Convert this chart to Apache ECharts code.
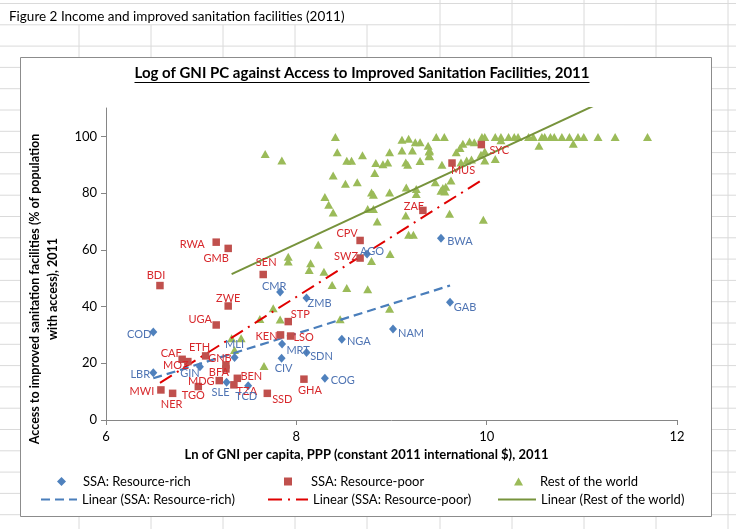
<!DOCTYPE html>
<html><head><meta charset="utf-8">
<script src="https://cdn.jsdelivr.net/npm/echarts@6/dist/echarts.min.js"></script>
<style>html,body{margin:0;padding:0;background:#fff}#c{width:736px;height:529px}</style>
</head><body><div id="c"></div>
<script>
// ---------- DATA ----------
const richNames = ['CMR','COD','LBR','GIN','MLI','SLE','TCD','MRT','CIV','ZMB','NGA','SDN','COG','AGO','NAM','GAB','BWA'];
const richX = [7.83,6.497,6.497,6.987,7.351,7.267,7.494,7.85,7.845,8.107,8.478,8.107,8.30,8.743,9.016,9.615,9.52];
const richY = [45.1,31.0,16.7,18.8,22.0,13.3,12.1,26.8,21.8,43.0,28.5,23.8,14.7,58.5,32.1,41.5,64.1];

const poorNames = ['RWA','GMB','BDI','SEN','ZWE','UGA','CAF','MOZ','ETH','GNB','BFA','MDG','BEN','TZA','TGO','MWI','NER','SSD','KEN','LSO','STP','GHA','CPV','SWZ','ZAF','MUS','SYC'];
const poorX = [7.158,7.284,6.567,7.652,7.284,7.158,6.80,6.86,7.047,7.26,7.26,7.19,7.38,7.344,6.97,6.577,6.70,7.695,7.834,7.94,7.915,8.08,8.67,8.67,9.33,9.636,9.944];
const poorY = [62.7,60.5,47.4,51.3,40.2,33.5,21.4,20.6,22.6,19.4,18.0,13.9,14.7,12.4,11.8,10.6,9.4,9.4,30.0,29.6,34.7,14.4,63.3,57.1,73.9,90.6,97.1];

const restPoints = [
 [7.32,28.8],[7.42,28.8],[7.35,24.7],[7.66,19.0],[7.617,35.6],[7.757,39.4],[7.83,35.4],[7.915,57.6],[7.915,55.9],[8.15,55.3],
 [8.135,52.9],[8.29,52.3],[8.23,61.8],[8.376,47.6],[8.53,46.5],[8.75,46.1],[8.98,39.2],[8.46,35.5],[8.85,70.0],[9.18,65.3],
 [9.23,65.3],[8.79,56.1],[8.985,58.5],[9.15,72.1],[9.61,72.7],[9.965,70.6],
 [7.673,93.8],[7.848,91.5],[8.41,99.8],[8.43,94.4],[8.695,93.3],[8.53,91.4],[8.58,91.4],[8.387,86.2],[8.516,83.3],[8.64,83.8],
 [8.30,78.6],[8.34,75.9],[8.387,73.2],[8.79,80.2],[8.81,79.4],[8.835,90.6],[8.824,87.1],[8.91,90.2],[8.96,90.8],[8.98,94.4],
 [8.98,80.2],[8.75,74.4],[8.81,74.4],[9.15,90.8],[9.17,90.0],[9.11,95.0],[9.22,95.0],[9.11,98.8],[9.18,99.2],[9.25,97.9],
 [9.30,97.9],[9.30,91.3],[9.385,96.7],[9.395,94.7],[9.395,93.2],[9.47,99.8],[9.555,99.8],[9.53,90.0],[9.46,83.8],[9.26,81.4],
 [9.26,79.7],[9.155,82.0],[9.625,84.4],[9.54,81.8],[9.56,80.6],[9.52,80.8],[9.57,82.2],[9.68,94.4],[9.72,95.9],[9.75,97.4],
 [9.82,98.2],[9.87,97.9],[9.73,90.8],[9.79,91.5],[9.84,91.8],[9.94,93.5],[9.98,94.7],[9.98,91.5],[10.09,92.0],[9.95,99.8],
 [9.98,99.8],[10.09,99.8],[10.15,99.8],[10.23,99.8],[10.29,99.8],[10.33,99.8],[10.44,99.8],[10.49,99.8],[10.58,99.8],[10.61,99.8],
 [10.67,99.8],[10.71,99.8],[10.79,99.8],[10.87,99.8],[10.96,99.8],[11.02,99.8],[11.17,99.8],[11.35,99.8],[11.69,99.8],[10.91,97.4],
 [10.55,96.7],[10.15,98.6],[9.40,95.0],[9.40,93.0]
];

// Excel linear trendlines (end points)
const trendRichX = [6.497, 9.615];  const trendRichY = [14.7, 47.4];
const trendPoorX = [6.567, 9.944];  const trendPoorY = [13.1, 84.5];
const trendRestX = [7.32, 11.69];   const trendRestY = [51.4, 119.6];

const xTicks = [6, 8, 10, 12];
const yTicks = [0, 20, 40, 60, 80, 100];

// ---------- STYLE (label offsets from marker centre, px) ----------
const labelOffset = {
 RWA:[-24,2], GMB:[-12,10], BDI:[-4,-10], SEN:[3,-12], ZWE:[0,-8], UGA:[-16,-6], CAF:[-11,-6], MOZ:[-12,4], ETH:[-6,-8],
 GNB:[-6,-7], BFA:[-7,4], MDG:[-18,1], BEN:[14,-2], TZA:[13,7], TGO:[-5,9], MWI:[-19,2], NER:[-1,11], SSD:[15,6],
 KEN:[-14,2], LSO:[13,1], STP:[12,-7], GHA:[6,11], CPV:[-13,-7], SWZ:[-14,-2], ZAF:[-9,-4], MUS:[11,7], SYC:[18,6],
 CMR:[-6,-6], COD:[-14,2], LBR:[-13,2], GIN:[-10,7], MLI:[0,-13], SLE:[-6,10], TCD:[-2,11], MRT:[16,6], CIV:[2,10],
 ZMB:[13,5], NGA:[17,2], SDN:[15,4], COG:[18,2], AGO:[5,-3], NAM:[18,5], GAB:[15,5], BWA:[19,3]
};

const FONT = 'Lato';
const BLUE = '#4f81bd', RED = '#c0504d', GREEN = '#9bbb59';

function labelled(names, xs, ys) {
  return names.map((n, i) => ({ name: n, value: [xs[i], ys[i]] }));
}
function pairs(xs, ys) { return xs.map((x, i) => [x, ys[i]]); }
function layoutFor(names) {
  return function (p) {
    const o = labelOffset[names[p.dataIndex]] || [0, 0];
    return { dx: o[0], dy: o[1], hideOverlap: false };
  };
}

// background spreadsheet grid
const bg = [];
for (let k = 0; k < 26; k++) {
  const y = 3.5 + 21.3 * k;
  bg.push({ type: 'line', z: 0, silent: true, shape: { x1: 0, y1: y, x2: 736, y2: y }, style: { stroke: '#dadada', lineWidth: 1 } });
}
[79, 151, 223, 295, 367, 440, 512, 584, 656, 728].forEach(x => {
  bg.push({ type: 'line', z: 0, silent: true, shape: { x1: x, y1: x < 400 ? 24.8 : 0, x2: x, y2: 529 }, style: { stroke: '#dadada', lineWidth: 1 } });
});
bg.push({ type: 'rect', z: 1, silent: true, shape: { x: 20.5, y: 57.5, width: 691, height: 459 }, style: { fill: '#fff', stroke: '#8c8c8c', lineWidth: 1 } });
bg.push({ type: 'text', z: 2, silent: true, x: 9, y: 17, style: { text: 'Figure 2 Income and improved sanitation facilities (2011)', font: '13.5px ' + FONT, fill: '#000', verticalAlign: 'middle' } });

const titleText = 'Log of GNI PC against Access to Improved Sanitation Facilities, 2011';
const titleFont = 'bold 15px ' + FONT;
const meas = document.createElement('canvas').getContext('2d');
meas.font = titleFont;
const tw = meas.measureText(titleText).width;
const tcx = 362;
bg.push({ type: 'text', z: 3, silent: true, x: tcx, y: 73, style: { text: titleText, font: titleFont, fill: '#000', align: 'center', verticalAlign: 'middle' } });
bg.push({ type: 'line', z: 3, silent: true, shape: { x1: tcx - tw / 2, y1: 82.5, x2: tcx + tw / 2, y2: 82.5 }, style: { stroke: '#000', lineWidth: 1.2 } });
bg.push({ type: 'text', z: 3, silent: true, x: 44, y: 289, rotation: Math.PI / 2,
  style: { text: 'Access to improved sanitation facilities (% of population\nwith access), 2011', font: 'bold 12.5px ' + FONT, fill: '#000', align: 'center', verticalAlign: 'middle', lineHeight: 18 } });

const chart = echarts.init(document.getElementById('c'));
const legendText = { fontFamily: FONT, fontSize: 13, color: '#000' };
function lg(extra) { return Object.assign({ selectedMode: false, itemGap: 0, textStyle: legendText }, extra); }
chart.setOption({
  backgroundColor: 'transparent',
  animation: false,
  textStyle: { fontFamily: FONT },
  graphic: bg,
  grid: { left: 106, right: 59, top: 108, bottom: 109, containLabel: false },
  xAxis: {
    type: 'value', min: xTicks[0], max: xTicks[xTicks.length - 1], interval: 2, z: 3,
    name: 'Ln of GNI per capita, PPP (constant 2011 international $), 2011',
    nameLocation: 'middle', nameGap: 27,
    nameTextStyle: { fontFamily: FONT, fontWeight: 'bold', fontSize: 13, color: '#000', padding: [0, 50, 0, 0] },
    axisLine: { show: true, lineStyle: { color: '#868686', width: 1 } },
    axisTick: { show: true, inside: false, length: 5, lineStyle: { color: '#868686' }, customValues: xTicks },
    axisLabel: { show: true, fontFamily: FONT, fontSize: 13, color: '#000', margin: 10, customValues: xTicks },
    splitLine: { show: false }
  },
  yAxis: {
    type: 'value', min: yTicks[0], max: 110, interval: 20, z: 3,
    axisLine: { show: true, lineStyle: { color: '#868686', width: 1 } },
    axisTick: { show: true, inside: false, length: 5, lineStyle: { color: '#868686' }, customValues: yTicks },
    axisLabel: { show: true, fontFamily: FONT, fontSize: 13, color: '#000', margin: 9, customValues: yTicks },
    splitLine: { show: false }
  },
  legend: [
    lg({ data: ['SSA: Resource-rich'], left: 52, top: 470, itemWidth: 9, itemHeight: 9, textStyle: Object.assign({}, legendText, { padding: [0, 0, 0, 12] }) }),
    lg({ data: ['SSA: Resource-poor'], left: 279, top: 470, itemWidth: 8, itemHeight: 8, textStyle: Object.assign({}, legendText, { padding: [0, 0, 0, 14] }) }),
    lg({ data: ['Rest of the world'], left: 509, top: 470, itemWidth: 9, itemHeight: 8, textStyle: Object.assign({}, legendText, { padding: [0, 0, 0, 12] }) }),
    lg({ data: ['Linear (SSA: Resource-rich)'], left: 35, top: 488, itemWidth: 36, itemHeight: 10, itemStyle: { opacity: 0 } }),
    lg({ data: ['Linear (SSA: Resource-poor)'], left: 262, top: 488, itemWidth: 40, itemHeight: 10, itemStyle: { opacity: 0 } }),
    lg({ data: ['Linear (Rest of the world)'], left: 492, top: 488, itemWidth: 38, itemHeight: 10, itemStyle: { opacity: 0 } })
  ],
  series: [
    {
      name: 'Rest of the world', type: 'scatter', z: 3,
      symbol: 'triangle', symbolSize: [9, 8],
      itemStyle: { color: GREEN, opacity: 1 },
      data: restPoints
    },
    {
      name: 'Linear (Rest of the world)', type: 'line', z: 4, clip: true,
      symbol: 'none', showSymbol: false,
      lineStyle: { color: '#77933c', width: 2, type: 'solid' },
      itemStyle: { color: '#77933c' },
      data: pairs(trendRestX, trendRestY)
    },
    {
      name: 'Linear (SSA: Resource-poor)', type: 'line', z: 4, clip: true,
      symbol: 'none', showSymbol: false,
      lineStyle: { color: '#e00000', width: 2, type: [14, 6, 2, 6] },
      itemStyle: { color: '#e00000' },
      data: pairs(trendPoorX, trendPoorY)
    },
    {
      name: 'Linear (SSA: Resource-rich)', type: 'line', z: 4, clip: true,
      symbol: 'none', showSymbol: false,
      lineStyle: { color: '#4a7ebb', width: 2.2, type: [9, 5] },
      itemStyle: { color: '#4a7ebb' },
      data: pairs(trendRichX, trendRichY)
    },
    {
      name: 'SSA: Resource-poor', type: 'scatter', z: 5,
      symbol: 'rect', symbolSize: 7.5,
      itemStyle: { color: RED, opacity: 1 },
      label: { show: true, position: 'inside', formatter: '{b}', color: '#d7282c', fontFamily: FONT, fontSize: 11 },
      labelLayout: layoutFor(poorNames),
      data: labelled(poorNames, poorX, poorY)
    },
    {
      name: 'SSA: Resource-rich', type: 'scatter', z: 5,
      symbol: 'diamond', symbolSize: [8, 9],
      itemStyle: { color: BLUE, opacity: 1 },
      label: { show: true, position: 'inside', formatter: '{b}', color: '#4f74b3', fontFamily: FONT, fontSize: 11 },
      labelLayout: layoutFor(richNames),
      data: labelled(richNames, richX, richY)
    }
  ]
});
</script>
</body></html>
